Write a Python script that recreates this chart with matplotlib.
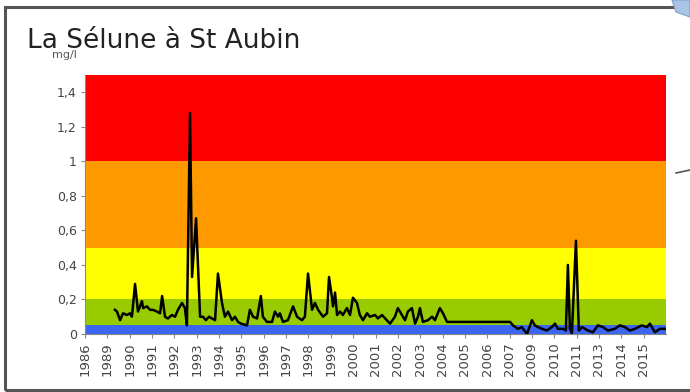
import matplotlib.pyplot as plt
from matplotlib.patches import Rectangle, Polygon
from matplotlib.lines import Line2D

# quality class limits (mg/l) and their colours
class_limits = [0, 0.05, 0.2, 0.5, 1.0, 1.5]
class_colors = ['#3a66f0', '#99cc00', '#ffff00', '#ff9900', '#ff0000']

# category axis labels (one every tick)
year_labels = ['1986', '1989', '1990', '1991', '1992', '1993', '1994', '1995',
               '1996', '1997', '1998', '1999', '2000', '2001', '2002', '2003',
               '2004', '2005', '2006', '2007', '2009', '2010', '2011', '2013',
               '2014', '2015']

# sample position on the category axis (in label steps) and concentration
pos = [1.34, 1.43, 1.57, 1.70, 1.88, 2.01, 2.10, 2.24, 2.37, 2.55, 2.60, 2.77,
       2.91, 3.04, 3.22, 3.36, 3.45, 3.58, 3.71, 3.89, 4.03, 4.16, 4.34, 4.47,
       4.56, 4.70, 4.79, 4.97, 5.15, 5.28, 5.41, 5.55, 5.68, 5.82, 5.95, 6.13,
       6.26, 6.40, 6.58, 6.71, 6.85, 6.98, 7.25, 7.38, 7.52, 7.70, 7.87, 7.96,
       8.14, 8.37, 8.50, 8.64, 8.72, 8.86, 9.08, 9.31, 9.49, 9.71, 9.84, 9.98,
       10.16, 10.29, 10.43, 10.65, 10.83, 10.92, 11.01, 11.10, 11.19, 11.28,
       11.41, 11.54, 11.72, 11.86, 11.99, 12.17, 12.30, 12.44, 12.62, 12.75,
       12.98, 13.11, 13.29, 13.51, 13.65, 13.87, 14.00, 14.18, 14.32, 14.45,
       14.63, 14.77, 14.90, 14.99, 15.12, 15.35, 15.53, 15.66, 15.88, 16.02,
       16.20, 19.02, 19.15, 19.37, 19.55, 19.78, 20.00, 20.13, 20.27, 20.45,
       20.67, 20.89, 21.03, 21.16, 21.39, 21.52, 21.61, 21.70, 21.79, 21.97,
       22.10, 22.24, 22.51, 22.73, 22.95, 23.18, 23.40, 23.71, 23.94, 24.16,
       24.38, 24.61, 24.92, 25.15, 25.28, 25.50, 25.73, 25.95]
conc = [0.14, 0.13, 0.08, 0.12, 0.11, 0.12, 0.10, 0.29, 0.13, 0.19, 0.15, 0.16,
        0.14, 0.14, 0.13, 0.12, 0.22, 0.10, 0.09, 0.11, 0.10, 0.14, 0.18, 0.15,
        0.05, 1.28, 0.33, 0.67, 0.10, 0.10, 0.08, 0.10, 0.09, 0.08, 0.35, 0.18,
        0.10, 0.13, 0.08, 0.10, 0.07, 0.06, 0.05, 0.14, 0.10, 0.09, 0.22, 0.10,
        0.07, 0.07, 0.13, 0.10, 0.12, 0.07, 0.08, 0.16, 0.10, 0.08, 0.10, 0.35,
        0.14, 0.18, 0.14, 0.10, 0.12, 0.33, 0.25, 0.16, 0.24, 0.11,
        0.13, 0.11, 0.15, 0.11, 0.21, 0.18, 0.11, 0.08, 0.12, 0.10,
        0.11, 0.09, 0.11, 0.08, 0.06, 0.10, 0.15, 0.11, 0.08, 0.13,
        0.15, 0.06, 0.10, 0.15, 0.07, 0.08, 0.10, 0.08, 0.15, 0.12,
        0.07, 0.07, 0.05, 0.03, 0.04, 0.00, 0.08, 0.05, 0.04, 0.03,
        0.02, 0.04, 0.06, 0.03, 0.03, 0.02, 0.40, 0.03, 0.005, 0.54,
        0.02, 0.04, 0.02, 0.01, 0.05, 0.04, 0.02, 0.03, 0.05, 0.04,
        0.02, 0.03, 0.05, 0.04, 0.06, 0.01, 0.03, 0.03]

plt.rcParams['font.family'] = ['DejaVu Sans']
fig = plt.figure(figsize=(6.9, 3.92), dpi=100)

# slide frame
fig.patches.append(Rectangle((5 / 690, 2 / 392), 1.2, 383 / 392, transform=fig.transFigure,
                             fill=False, edgecolor='#555555', lw=2.2))
fig.patches.append(Polygon([(672 / 690, 392 / 392), (690 / 690, 392 / 392), (690 / 690, 375 / 392),
                            (676 / 690, 380 / 392)], closed=True, transform=fig.transFigure,
                           facecolor='#a9c4e4', edgecolor='#7f9fc8', lw=0.8))
fig.lines.append(Line2D([676 / 690, 690 / 690], [219 / 392, 222 / 392], transform=fig.transFigure,
                        color='#555555', lw=1.2))

ax = fig.add_axes([85 / 690, 1 - 334 / 392, 581 / 690, 259 / 392])

for lo, hi, c in zip(class_limits[:-1], class_limits[1:], class_colors):
    ax.axhspan(lo, hi, color=c, lw=0, zorder=0)

ax.plot(pos, conc, color='black', lw=1.8, zorder=3)

ax.set_xlim(0, 26)
ax.set_ylim(0, 1.5)
ax.set_xticks(range(len(year_labels)))
ax.set_xticklabels(year_labels, rotation=90, fontsize=9.5, color='#444444')
ax.set_yticks([0, 0.2, 0.4, 0.6, 0.8, 1.0, 1.2, 1.4])
ax.set_yticklabels(['0', '0,2', '0,4', '0,6', '0,8', '1', '1,2', '1,4'], fontsize=9, color='#444444')
ax.tick_params(axis='both', length=3, width=0.8, color='#888888', pad=3)
for s in ['top', 'right']:
    ax.spines[s].set_visible(False)
for s in ['left', 'bottom']:
    ax.spines[s].set_color('#888888')
    ax.spines[s].set_linewidth(0.8)

fig.text(27 / 690, 1 - 48 / 392, 'La Sélune à St Aubin', fontsize=19, color='#222222')
fig.text(52 / 690, 1 - 58 / 392, 'mg/l', fontsize=8, color='#555555')

fig.savefig('out.png', dpi=100)
